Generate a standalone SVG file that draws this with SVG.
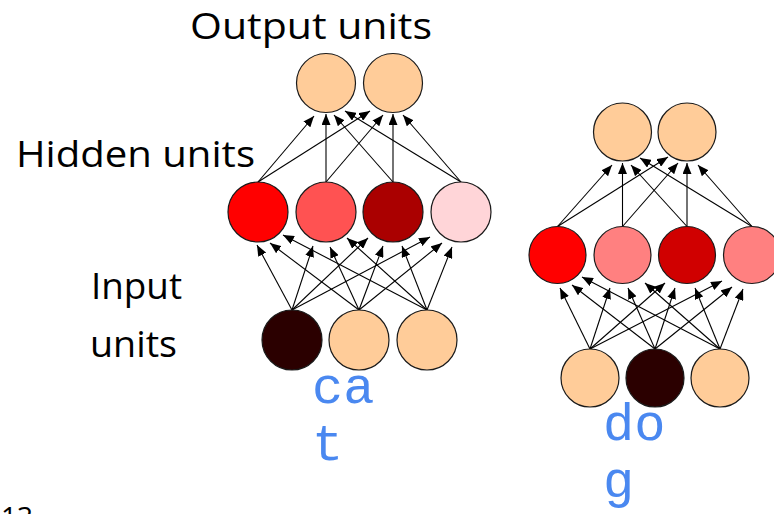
<svg xmlns="http://www.w3.org/2000/svg" width="774" height="514" viewBox="0 0 774 514">
  <style>
    .unit { stroke: #1a1a1a; stroke-width: 1.2; }
    .peach { fill: #FFCC99; }
    .dark { fill: #2B0000; }
    .edge { stroke: #000; stroke-width: 1.1; fill: none; marker-end: url(#arrow); }
    .label { font-family: "Open Sans", "Noto Sans", sans-serif; font-size: 37px; fill: #000; }
    .word { font-family: "Liberation Mono", "Courier New", monospace; font-size: 52px; fill: #4A88F0; }
  </style>
  <defs>
    <marker id="arrow" markerUnits="userSpaceOnUse" markerWidth="11" markerHeight="9" refX="11" refY="4.5" orient="auto">
      <path d="M0,0 L11,4.5 L0,9 Z" fill="#000"/>
    </marker>
  </defs>

  <rect width="774" height="514" fill="#fff"/>

  <!-- labels -->
  <text class="label" x="190" y="39" textLength="242" lengthAdjust="spacingAndGlyphs">Output units</text>
  <text class="label" x="16" y="167" textLength="239" lengthAdjust="spacingAndGlyphs">Hidden units</text>
  <text class="label" x="91" y="299" textLength="91" lengthAdjust="spacingAndGlyphs">Input</text>
  <text class="label" x="90" y="357" textLength="87" lengthAdjust="spacingAndGlyphs">units</text>
  <text class="label" x="1" y="527" style="font-size:28px">13</text>

  <!-- connectors -->
  <g id="connectors">
    <!-- cat: input -> hidden -->
    <line class="edge" x1="292" y1="310" x2="257" y2="245"/>
    <line class="edge" x1="292" y1="310" x2="313" y2="246"/>
    <line class="edge" x1="292" y1="310" x2="368" y2="238"/>
    <line class="edge" x1="292" y1="310" x2="430" y2="237"/>
    <line class="edge" x1="359" y1="310" x2="270" y2="243"/>
    <line class="edge" x1="359" y1="310" x2="330" y2="247"/>
    <line class="edge" x1="359" y1="310" x2="383" y2="246"/>
    <line class="edge" x1="359" y1="310" x2="442" y2="243"/>
    <line class="edge" x1="427" y1="310" x2="283" y2="235"/>
    <line class="edge" x1="427" y1="310" x2="347" y2="238"/>
    <line class="edge" x1="427" y1="310" x2="402" y2="246"/>
    <line class="edge" x1="427" y1="310" x2="452" y2="247"/>
    <!-- cat: hidden -> output -->
    <line class="edge" x1="258" y1="182" x2="314" y2="116"/>
    <line class="edge" x1="258" y1="182" x2="370" y2="111"/>
    <line class="edge" x1="326" y1="182" x2="326" y2="114"/>
    <line class="edge" x1="326" y1="182" x2="383" y2="115"/>
    <line class="edge" x1="393" y1="182" x2="334" y2="115"/>
    <line class="edge" x1="393" y1="182" x2="393" y2="114"/>
    <line class="edge" x1="461" y1="182" x2="345" y2="111"/>
    <line class="edge" x1="461" y1="182" x2="403" y2="115"/>
    <!-- dog: input -> hidden -->
    <line class="edge" x1="590" y1="349" x2="560" y2="288"/>
    <line class="edge" x1="590" y1="349" x2="610" y2="288"/>
    <line class="edge" x1="590" y1="349" x2="665" y2="283"/>
    <line class="edge" x1="590" y1="349" x2="722" y2="281"/>
    <line class="edge" x1="655" y1="349" x2="572" y2="285"/>
    <line class="edge" x1="655" y1="349" x2="628" y2="288"/>
    <line class="edge" x1="655" y1="349" x2="675" y2="288"/>
    <line class="edge" x1="655" y1="349" x2="732" y2="287"/>
    <line class="edge" x1="720" y1="349" x2="582" y2="277"/>
    <line class="edge" x1="720" y1="349" x2="645" y2="283"/>
    <line class="edge" x1="720" y1="349" x2="695" y2="288"/>
    <line class="edge" x1="720" y1="349" x2="743" y2="289"/>
    <!-- dog: hidden -> output -->
    <line class="edge" x1="557.5" y1="226.5" x2="612" y2="165"/>
    <line class="edge" x1="557.5" y1="226.5" x2="668" y2="157"/>
    <line class="edge" x1="622.5" y1="226.5" x2="622.5" y2="163"/>
    <line class="edge" x1="622.5" y1="226.5" x2="678" y2="163"/>
    <line class="edge" x1="687" y1="226.5" x2="631" y2="165"/>
    <line class="edge" x1="687" y1="226.5" x2="687" y2="163"/>
    <line class="edge" x1="752" y1="226.5" x2="640" y2="158"/>
    <line class="edge" x1="752" y1="226.5" x2="698" y2="165"/>
  </g>

  <!-- cat network -->
  <g id="cat-out-1"><circle class="unit peach" cx="326" cy="83" r="29.5"/></g>
  <g id="cat-out-2"><circle class="unit peach" cx="393" cy="83" r="29.5"/></g>
  <g id="cat-hid-1"><circle class="unit" cx="258" cy="212" r="30" fill="#FF0000"/></g>
  <g id="cat-hid-2"><circle class="unit" cx="326" cy="212" r="30" fill="#FF5252"/></g>
  <g id="cat-hid-3"><circle class="unit" cx="393" cy="212" r="30" fill="#AA0000"/></g>
  <g id="cat-hid-4"><circle class="unit" cx="461" cy="212" r="30" fill="#FFD5D8"/></g>
  <g id="cat-in-1"><circle class="unit dark" cx="292" cy="340" r="30"/></g>
  <g id="cat-in-2"><circle class="unit peach" cx="359" cy="340" r="30"/></g>
  <g id="cat-in-3"><circle class="unit peach" cx="427" cy="340" r="30"/></g>

  <!-- dog network -->
  <g id="dog-out-1"><circle class="unit peach" cx="622.5" cy="132" r="29"/></g>
  <g id="dog-out-2"><circle class="unit peach" cx="687" cy="132" r="29"/></g>
  <g id="dog-hid-1"><circle class="unit" cx="557.5" cy="255" r="28.5" fill="#FF0000"/></g>
  <g id="dog-hid-2"><circle class="unit" cx="622.5" cy="255" r="28.5" fill="#FF8080"/></g>
  <g id="dog-hid-3"><circle class="unit" cx="687" cy="255" r="28.5" fill="#D00000"/></g>
  <g id="dog-hid-4"><circle class="unit" cx="752" cy="255" r="28.5" fill="#FF8080"/></g>
  <g id="dog-in-1"><circle class="unit peach" cx="590" cy="378" r="29"/></g>
  <g id="dog-in-2"><circle class="unit dark" cx="655" cy="378" r="29"/></g>
  <g id="dog-in-3"><circle class="unit peach" cx="720" cy="378" r="29"/></g>

  <!-- words -->
  <text class="word" x="312" y="403">ca</text>
  <text class="word" x="312" y="460">t</text>
  <text class="word" x="603" y="440">do</text>
  <text class="word" x="603" y="497">g</text>
</svg>
